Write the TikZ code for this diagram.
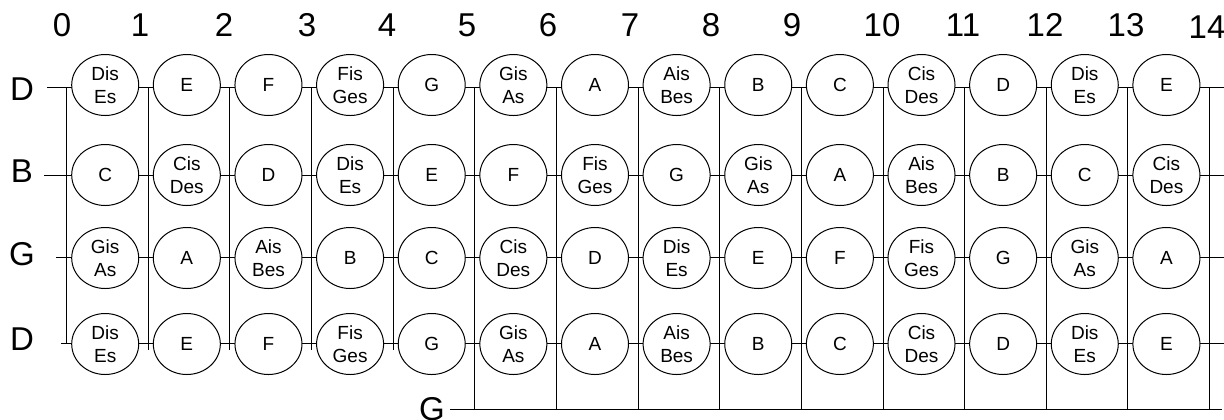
\documentclass[tikz,border=0pt]{standalone}
\usepackage{fontspec}
\setmainfont{Liberation Sans}
\usetikzlibrary{shapes.geometric}
\begin{document}
\begin{tikzpicture}[x=0.5pt,y=-0.5pt,line join=round,line cap=butt]
	\tikzset{every node/.style={inner sep=0pt},
		wire/.style={line width=0.5pt},
		note/.style={draw,line width=0.5pt,fill=white,ellipse,minimum width=33.5pt,minimum height=30.5pt,align=center,font=\fontsize{9.5}{11.5}\selectfont},
		lbl/.style={font=\fontsize{16.5}{18}\selectfont}}
	\useasboundingbox (0,0) rectangle (1224,419);
	% strings
	\foreach \r/\y/\xa in {hd/87/47, b/175/44, g/257/56, ld/343/61}{
		\coordinate (\r-w) at (\xa,\y);
		\coordinate (\r-e) at (1224,\y);
		\draw[wire] (\r-w)--(\r-e);
	}
	\coordinate (lg-w) at (450,409);
	\coordinate (lg-e) at (1222,409);
	\draw[wire] (lg-w)--(lg-e);
	% frets
	\foreach \k in {0,...,14}{
		\pgfmathsetmacro\fx{66.7+81.63*\k}
		\pgfmathsetmacro\fy{\k==0 ? 343 : (\k<5 ? 350 : 409)}
		\coordinate (f\k-t) at (\fx,87);
		\coordinate (f\k-b) at (\fx,\fy);
		\draw[wire] (f\k-t)--(f\k-b);
	}
	% notes
	\foreach \r/\y in {hd/85, ld/344}
	\foreach \n [count=\i from 0] in {{Dis\\Es},E,F,{Fis\\Ges},G,{Gis\\As},A,{Ais\\Bes},B,C,{Cis\\Des},D,{Dis\\Es},E}
	\node[note] (\r-\i) at ({105.2+81.63*\i},\y) {\n};
	\foreach \n [count=\i from 0] in {C,{Cis\\Des},D,{Dis\\Es},E,F,{Fis\\Ges},G,{Gis\\As},A,{Ais\\Bes},B,C,{Cis\\Des}}
	\node[note] (b-\i) at ({105.2+81.63*\i},175) {\n};
	\foreach \n [count=\i from 0] in {{Gis\\As},A,{Ais\\Bes},B,C,{Cis\\Des},D,{Dis\\Es},E,F,{Fis\\Ges},G,{Gis\\As},A}
	\node[note] (g-\i) at ({105.2+81.63*\i},258) {\n};
	% string names
	\node[lbl] (name-hd) at (22,89) {D};
	\node[lbl] (name-b) at (22,171) {B};
	\node[lbl] (name-g) at (22,254) {G};
	\node[lbl] (name-ld) at (22,339) {D};
	\node[lbl] (name-lg) at (432,409) {G};
	% fret numbers
	\foreach \n/\x in {0/62, 1/140, 2/224, 3/307, 4/387, 5/467, 6/548, 7/630, 8/711, 9/792, 10/882, 11/963, 12/1045, 13/1126}
	\node[lbl] (num\n) at (\x,25) {\n};
	\node[lbl] (num14) at (1207,27) {14};
\end{tikzpicture}
\end{document}
